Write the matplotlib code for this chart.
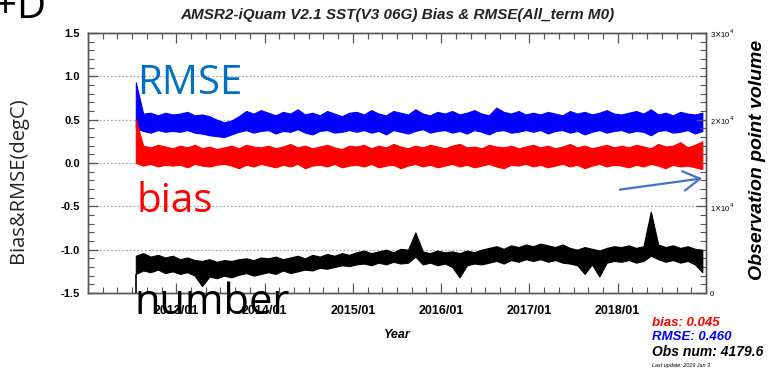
import numpy as np
import pandas as pd
import matplotlib
matplotlib.use("Agg")
import matplotlib.pyplot as plt
from matplotlib.ticker import MultipleLocator, FixedLocator

# ---------------- data (monthly envelopes) ----------------
months = pd.period_range("2012-07", "2018-12", freq="M")

rmse_hi = [0.93, 0.57, 0.58, 0.55, 0.58, 0.56,
           0.57, 0.59, 0.55, 0.56, 0.54, 0.50, 0.47, 0.49, 0.54, 0.60, 0.57, 0.61,
           0.58, 0.55, 0.59, 0.57, 0.62, 0.56, 0.58, 0.55, 0.60, 0.57, 0.54, 0.58,
           0.59, 0.56, 0.61, 0.57, 0.55, 0.60, 0.58, 0.56, 0.62, 0.57, 0.55, 0.59,
           0.57, 0.60, 0.56, 0.58, 0.61, 0.57, 0.55, 0.64, 0.59, 0.57, 0.60, 0.56,
           0.58, 0.56, 0.59, 0.57, 0.55, 0.60, 0.57, 0.59, 0.56, 0.58, 0.61, 0.57,
           0.56, 0.58, 0.60, 0.57, 0.62, 0.56, 0.58, 0.55, 0.59, 0.57, 0.56, 0.58]
rmse_lo = [0.40, 0.37, 0.35, 0.38, 0.36, 0.37,
           0.36, 0.38, 0.35, 0.34, 0.32, 0.31, 0.30, 0.33, 0.36, 0.38, 0.35, 0.37,
           0.38, 0.34, 0.37, 0.36, 0.39, 0.35, 0.33, 0.37, 0.38, 0.35, 0.36, 0.38,
           0.36, 0.38, 0.35, 0.37, 0.33, 0.38, 0.36, 0.34, 0.37, 0.39, 0.35, 0.37,
           0.38, 0.35, 0.37, 0.34, 0.38, 0.36, 0.33, 0.37, 0.38, 0.35, 0.36, 0.38,
           0.36, 0.38, 0.34, 0.37, 0.38, 0.35, 0.37, 0.33, 0.36, 0.38, 0.35, 0.37,
           0.38, 0.35, 0.37, 0.36, 0.32, 0.37, 0.38, 0.35, 0.36, 0.38, 0.34, 0.37]

bias_hi = [0.50, 0.20, 0.18, 0.21, 0.19, 0.17,
           0.20, 0.18, 0.21, 0.17, 0.19, 0.16, 0.18, 0.20, 0.17, 0.21, 0.19, 0.18,
           0.20, 0.17, 0.19, 0.22, 0.18, 0.20, 0.17, 0.19, 0.21, 0.18, 0.16, 0.20,
           0.19, 0.21, 0.17, 0.20, 0.18, 0.22, 0.19, 0.17, 0.20, 0.18, 0.21, 0.19,
           0.17, 0.20, 0.22, 0.18, 0.19, 0.17, 0.21, 0.19, 0.18, 0.20, 0.17, 0.19,
           0.21, 0.18, 0.20, 0.17, 0.19, 0.22, 0.18, 0.20, 0.17, 0.19, 0.21, 0.18,
           0.20, 0.18, 0.21, 0.19, 0.17, 0.22, 0.19, 0.20, 0.24, 0.18, 0.21, 0.25]
bias_lo = [0.00, -0.03, -0.01, -0.04, -0.02, -0.03,
           -0.02, -0.05, -0.01, -0.03, -0.04, -0.02, -0.01, -0.03, -0.06, -0.02, -0.04, -0.01,
           -0.03, -0.05, -0.02, -0.04, -0.01, -0.06, -0.03, -0.02, -0.04, -0.01, -0.05, -0.03,
           -0.02, -0.04, -0.01, -0.05, -0.03, -0.02, -0.06, -0.03, -0.01, -0.04, -0.02, -0.05,
           -0.03, -0.01, -0.04, -0.02, -0.05, -0.03, -0.01, -0.04, -0.06, -0.02, -0.03, -0.01,
           -0.04, -0.02, -0.05, -0.03, -0.01, -0.04, -0.02, -0.06, -0.03, -0.01, -0.04, -0.02,
           -0.03, -0.05, -0.02, -0.04, -0.01, -0.03, -0.06, -0.02, -0.04, -0.03, -0.05, -0.07]

num_hi = [4300, 4600, 4200, 4400, 4100, 4300,
          3900, 4100, 3800, 3700, 3900, 3600, 3800, 3700, 3900, 4000, 3800, 4100,
          4000, 4200, 3900, 4100, 4300, 4000, 4400, 4200, 4500, 4300, 4600, 4400,
          4700, 4900, 4600, 4800, 5000, 4700, 5100, 5000, 7000, 4800, 4600, 4900,
          4700, 4800, 4600, 4900, 4700, 5000, 5200, 5400, 5100, 5500, 5300, 5600,
          5400, 5700, 5500, 5300, 5600, 5200, 5000, 5300, 5100, 4900, 5200, 5400,
          5300, 5500, 5200, 5400, 9400, 5600, 5300, 5500, 5200, 5400, 5100, 5000]
num_lo = [2200, 2600, 2400, 2700, 2300, 2500,
          2200, 2400, 2000, 800, 1900, 1700, 2000, 1800, 2100, 2300, 2000, 2200,
          2400, 2200, 2600, 2300, 2500, 2700, 2600, 2900, 2800, 3000, 3200, 3100,
          3300, 3400, 3200, 3500, 3300, 3600, 3400, 3500, 4200, 3300, 3500, 3200,
          3400, 3000, 1800, 3200, 3400, 3300, 3500, 3700, 3400, 3800, 3600, 3900,
          3700, 3900, 3600, 3800, 3500, 3400, 3200, 2200, 3300, 1900, 3500, 3700,
          3600, 3800, 3500, 3700, 4300, 3900, 3600, 3800, 3500, 3700, 3300, 2400]

year_ticks = [2013, 2014, 2015, 2016, 2017, 2018]
year_labels = ["2013/01", "2014/01", "2015/01", "2016/01", "2017/01", "2018/01"]
left_ticks = [-1.5, -1.0, -0.5, 0.0, 0.5, 1.0, 1.5]
right_ticks = [0, 10000, 20000, 30000]
right_labels = ["0", r"1$\times$10$^4$", r"2$\times$10$^4$", r"3$\times$10$^4$"]

stat_bias = 0.045
stat_rmse = 0.460
stat_num = 4179.6

# ---------------- figure ----------------
IDL = "Liberation Sans"
W, H = 773, 374
fig = plt.figure(figsize=(W / 100, H / 100), dpi=100)
ax = fig.add_axes([88 / W, 1 - 293 / H, (706 - 88) / W, (293 - 33) / H])
ax2 = ax.twinx()

x = np.array([p.year + (p.month - 0.5) / 12 for p in months])

ax.set_xlim(2012, 2019)
ax.set_ylim(-1.5, 1.5)
ax2.set_ylim(0, 30000)

for yv in [-1.0, -0.5, 0.0, 0.5, 1.0]:
    ax.axhline(yv, color="#aaaaaa", lw=0.9, ls=(0, (1.5, 1.5)), zorder=1)

ax.fill_between(x, rmse_lo, rmse_hi, color="#0000ff", lw=0.8, zorder=3)
ax.fill_between(x, bias_lo, bias_hi, color="#ff0000", lw=0.8, zorder=3)
ax2.fill_between(x, num_lo, num_hi, color="black", lw=0.8, zorder=3)
ax2.vlines(x[0], 0, num_lo[0], color="black", lw=1.2)

# ticks
ax.xaxis.set_major_locator(FixedLocator(year_ticks))
ax.set_xticklabels(year_labels, fontfamily=IDL, fontweight="bold", fontsize=9)
ax.xaxis.set_minor_locator(MultipleLocator(1 / 6))
ax.yaxis.set_major_locator(FixedLocator(left_ticks))
ax.set_yticklabels([f"{v:.1f}" for v in left_ticks], fontfamily=IDL,
                   fontweight="bold", fontsize=8)
ax.yaxis.set_minor_locator(MultipleLocator(0.1))
ax.tick_params(which="both", direction="in", top=True, bottom=True,
               left=True, right=False, color="#555555")
ax.tick_params(which="major", length=7, width=0.9)
ax.tick_params(which="minor", length=4, width=0.8)
ax.tick_params(axis="x", pad=9)
ax.tick_params(axis="y", pad=6)

ax2.yaxis.set_major_locator(FixedLocator(right_ticks))
ax2.set_yticklabels(right_labels, fontfamily=IDL, fontsize=5.5)
ax2.yaxis.set_minor_locator(MultipleLocator(1000))
ax2.tick_params(which="both", direction="in", color="#555555")
ax2.tick_params(which="major", length=7, width=0.9, pad=3)
ax2.tick_params(which="minor", length=4, width=0.8)

for a in (ax, ax2):
    for s in a.spines.values():
        s.set_color("#555555")
        s.set_linewidth(1.0)

# IDL texts
fig.text(397 / W, 1 - 15 / H, "AMSR2-iQuam V2.1 SST(V3 06G) Bias & RMSE(All_term M0)",
         ha="center", va="center", fontfamily=IDL, fontweight="bold",
         fontstyle="italic", fontsize=11, color="#222222")
fig.text(397 / W, 1 - 335 / H, "Year", ha="center", va="center", fontfamily=IDL,
         fontweight="bold", fontstyle="italic", fontsize=9)
fig.text(757 / W, 1 - 160 / H, "Observation point volume", ha="center", va="center",
         rotation=90, fontfamily=IDL, fontweight="bold", fontstyle="italic", fontsize=14)

fig.text(652 / W, 1 - 323 / H, f"bias: {stat_bias:.3f}", color="#ff0000", ha="left",
         va="center", fontfamily=IDL, fontweight="bold", fontstyle="italic", fontsize=9.5)
fig.text(652 / W, 1 - 337 / H, f"RMSE: {stat_rmse:.3f}", color="#0000ff", ha="left",
         va="center", fontfamily=IDL, fontweight="bold", fontstyle="italic", fontsize=9.5)
fig.text(652 / W, 1 - 352 / H, f"Obs num: {stat_num:.1f}", color="black", ha="left",
         va="center", fontfamily=IDL, fontweight="bold", fontstyle="italic", fontsize=10)
fig.text(652 / W, 1 - 366 / H, "Last update: 2019 Jan 3", color="black", ha="left",
         va="center", fontfamily=IDL, fontstyle="italic", fontsize=4)

# overlaid annotations
ANN = "Open Sans"
fig.text(18 / W, 1 - 180 / H, "Bias&RMSE(degC)", rotation=90, ha="center", va="center",
         fontfamily=ANN, fontsize=14.5, color="#222222")
fig.text(137 / W, 1 - 94 / H, "RMSE", ha="left", va="baseline", fontfamily=ANN,
         fontsize=29, color="#0070c0")
fig.text(137 / W, 1 - 212 / H, "bias", ha="left", va="baseline", fontfamily=ANN,
         fontsize=29, color="#ff0000")
fig.text(135 / W, 1 - 314 / H, "number", ha="left", va="baseline", fontfamily=ANN,
         fontsize=30, color="black")
fig.text(-6 / W, 1 - 18 / H, "+D", ha="left", va="baseline", fontfamily=ANN,
         fontsize=29, color="black")

fig.add_artist(matplotlib.patches.FancyArrowPatch(
    (617 / W, 1 - 190 / H), (705 / W, 1 - 178 / H), transform=fig.transFigure,
    arrowstyle="->,head_length=6,head_width=3.5", color="#4472c4", lw=1.6,
    mutation_scale=2))

fig.savefig("out.png", dpi=100)
